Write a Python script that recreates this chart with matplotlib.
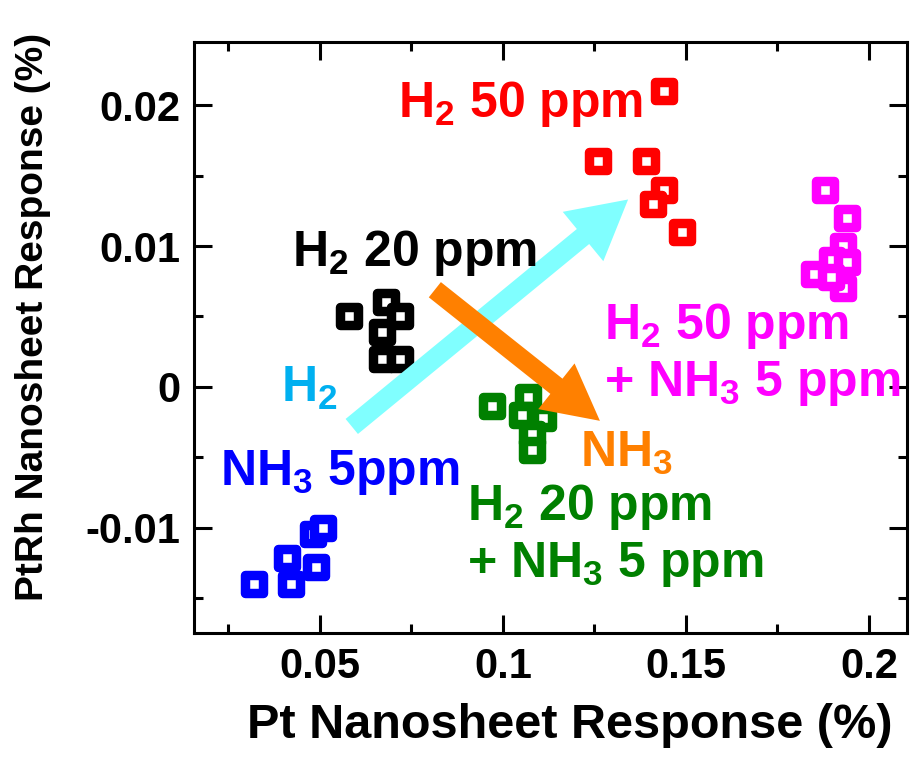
import numpy as np
import matplotlib
matplotlib.use('Agg')
import matplotlib.pyplot as plt
from matplotlib.markers import MarkerStyle

plt.rcParams['font.family'] = ['Liberation Sans', 'DejaVu Sans']
plt.rcParams['font.weight'] = 'bold'
plt.rcParams['mathtext.fontset'] = 'custom'
plt.rcParams['mathtext.rm'] = 'Liberation Sans:bold'
plt.rcParams['mathtext.bf'] = 'Liberation Sans:bold'
plt.rcParams['mathtext.it'] = 'Liberation Sans:bold'

# data (Pt response, PtRh response) in %
h2_50_x = [0.144, 0.126, 0.139, 0.144, 0.141, 0.149]
h2_50_y = [0.0210, 0.0160, 0.0160, 0.0140, 0.0130, 0.0110]

h2_20_x = [0.0579, 0.068, 0.0719, 0.067, 0.067, 0.0719]
h2_20_y = [0.0050, 0.0060, 0.0050, 0.0039, 0.0020, 0.0020]

nh3_x = [0.032, 0.0421, 0.041, 0.0489, 0.048, 0.0508]
nh3_y = [-0.0140, -0.0140, -0.0121, -0.0128, -0.0104, -0.0100]

mix20_x = [0.097, 0.1068, 0.1052, 0.111, 0.108, 0.108]
mix20_y = [-0.00135, -0.0007, -0.0020, -0.0022, -0.0033, -0.0045]

mix50_x = [0.188, 0.194, 0.193, 0.190, 0.194, 0.185, 0.193, 0.1897]
mix50_y = [0.0140, 0.0120, 0.0100, 0.0090, 0.0089, 0.0080, 0.0070, 0.0078]

groups = [
    (h2_50_x, h2_50_y, '#ff0000'),
    (h2_20_x, h2_20_y, '#000000'),
    (nh3_x, nh3_y, '#0000ff'),
    (mix20_x, mix20_y, '#008000'),
    (mix50_x, mix50_y, '#ff00ff'),
]

fig = plt.figure(figsize=(9.1, 7.61), dpi=100)
ax = fig.add_axes([0.2132, 0.1682, 0.7835, 0.7766])

sq = MarkerStyle('s', joinstyle='round')
for xs, ys, c in groups:
    ax.plot(xs, ys, linestyle='none', marker=sq, markersize=12.6,
            markerfacecolor='white', markeredgecolor=c, markeredgewidth=6.8)

# arrows
ax.annotate('', xy=(0.1342, 0.0133), xytext=(0.0587, -0.0028),
            arrowprops=dict(arrowstyle='simple,head_length=42,head_width=46,tail_width=14',
                            mutation_scale=1, color='#80ffff', lw=0,
                            shrinkA=0, shrinkB=0))
ax.annotate('', xy=(0.1265, -0.0024), xytext=(0.0814, 0.0069),
            arrowprops=dict(arrowstyle='simple,head_length=40,head_width=42,tail_width=14',
                            mutation_scale=1, color='#ff8000', lw=0,
                            shrinkA=0, shrinkB=0))

fs = 36
ax.text(0.0713, 0.01915, r'H$_2$ 50 ppm', color='#ff0000', fontsize=fs, va='baseline')
ax.text(0.0424, 0.00858, r'H$_2$ 20 ppm', color='#000000', fontsize=fs, va='baseline')
ax.text(0.0393, -0.00106, r'H$_2$', color='#00b0f0', fontsize=fs, va='baseline')
ax.text(0.0227, -0.00695, r'NH$_3$ 5ppm', color='#0000ff', fontsize=fs, va='baseline')
ax.text(0.0902, -0.00943, r'H$_2$ 20 ppm', color='#008000', fontsize=fs, va='baseline')
ax.text(0.0902, -0.01348, r'+ NH$_3$ 5 ppm', color='#008000', fontsize=fs, va='baseline')
ax.text(0.121, -0.00567, r'NH$_3$', color='#ff8000', fontsize=fs, va='baseline')
ax.text(0.1276, 0.0034, r'H$_2$ 50 ppm', color='#ff00ff', fontsize=fs, va='baseline')
ax.text(0.1276, -0.00064, r'+ NH$_3$ 5 ppm', color='#ff00ff', fontsize=fs, va='baseline')

ax.set_xlim(0.0156, 0.2104)
ax.set_ylim(-0.01745, 0.02447)
ax.set_xticks([0.05, 0.1, 0.15, 0.2])
ax.set_xticklabels(['0.05', '0.1', '0.15', '0.2'])
ax.set_xticks([0.025, 0.075, 0.125, 0.175], minor=True)
ax.set_yticks([-0.01, 0, 0.01, 0.02])
ax.set_yticklabels(['-0.01', '0', '0.01', '0.02'])
ax.set_yticks([-0.015, -0.005, 0.005, 0.015], minor=True)

for s in ax.spines.values():
    s.set_linewidth(2.2)
ax.tick_params(which='both', direction='in', top=True, right=True, width=2.2,
               labelsize=30, pad=10)
ax.tick_params(which='major', length=13)
ax.tick_params(which='minor', length=6.5)

ax.set_xlabel('Pt Nanosheet Response (%)', fontsize=35, fontweight='bold')
ax.set_ylabel('PtRh Nanosheet Response (%)', fontsize=28, fontweight='bold')
ax.xaxis.set_label_coords(0.527, -0.118)
ax.yaxis.set_label_coords(-0.200, 0.535)

fig.savefig('out.png', dpi=100)
